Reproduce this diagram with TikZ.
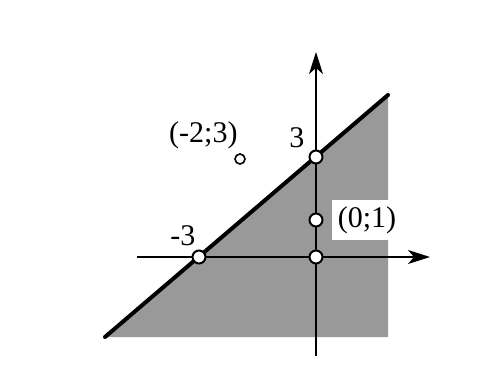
\documentclass[tikz,border=0pt]{standalone}
\usepackage{fontspec}
\setmainfont{Liberation Serif}
\usetikzlibrary{arrows.meta,positioning}

\begin{document}
\begin{tikzpicture}[
      x=0.5pt, y=-0.5pt,
      axis/.style={-{Stealth[length=11pt,width=7pt,inset=3pt]}, line width=0.6pt},
      bound/.style={line width=2pt, line cap=round},
      dot/.style={circle, draw, fill=white, line width=1pt, inner sep=0pt, minimum size=6.5pt},
      lbl/.style={font=\fontsize{15}{17}\selectfont, inner sep=1pt}
    ]
      \useasboundingbox (0,0) rectangle (478,372);

      % half-plane and its edge
      \coordinate (lo) at (105,337);
      \coordinate (hi) at (388,95);
      \fill[black!40] (lo) -- (hi) -- (388,337) -- cycle;

      % axes
      \coordinate (xstart) at (137,257);
      \coordinate (xend) at (430,257);
      \coordinate (ystart) at (316,356);
      \coordinate (yend) at (316,52);
      \draw[axis] (xstart) -- (xend);
      \draw[axis] (ystart) -- (yend);

      \draw[bound] (lo) -- (hi);

      % points
      \node[dot] (xm) at (199,257) {};
      \node[dot] (orig) at (316,257) {};
      \node[dot] (ythree) at (316,157) {};
      \node[dot] (yone) at (316,220) {};
      \node[dot, line width=0.8pt, minimum size=5pt] (pq) at (240,159) {};

      % labels
      \node[lbl, above left=2pt and -2pt of xm] (lxm) {-3};
      \node[lbl, above left=1pt and 2pt of ythree] (lythree) {3};
      \node[lbl, above left=2pt and -2pt of pq] (lpq) {(-2;3)};
      \node[lbl, right=4pt of yone, fill=white, inner sep=3pt] (lyone) {(0;1)};
    \end{tikzpicture}
\end{document}
